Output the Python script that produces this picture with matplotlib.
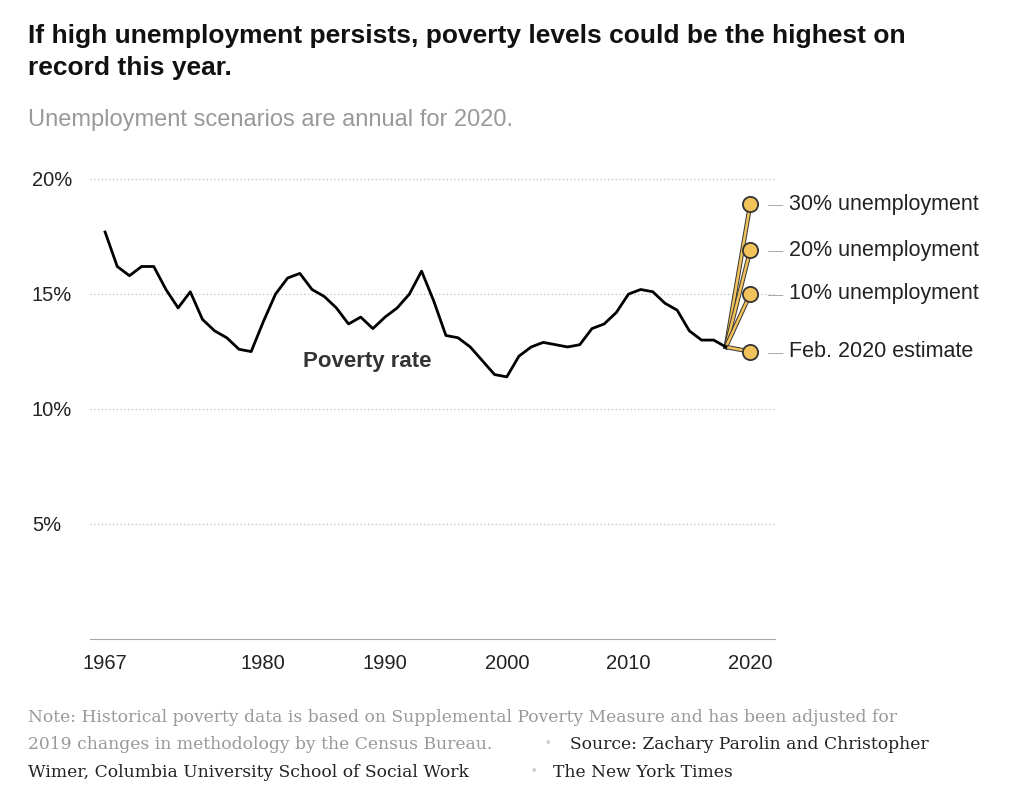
import matplotlib.pyplot as plt

years = list(range(1967, 2019))
poverty = [17.7, 16.2, 15.8, 16.2, 16.2, 15.2, 14.4, 15.1, 13.9, 13.4,
           13.1, 12.6, 12.5, 13.8, 15.0, 15.7, 15.9, 15.2, 14.9, 14.4,
           13.7, 14.0, 13.5, 14.0, 14.4, 15.0, 16.0, 14.7, 13.2, 13.1,
           12.7, 12.1, 11.5, 11.4, 12.3, 12.7, 12.9, 12.8, 12.7, 12.8,
           13.5, 13.7, 14.2, 15.0, 15.2, 15.1, 14.6, 14.3, 13.4, 13.0,
           13.0, 12.7]
scenario_labels = ["30% unemployment", "20% unemployment",
                   "10% unemployment", "Feb. 2020 estimate"]
scenario_values = [18.9, 16.9, 15.0, 12.5]
yticks = [5, 10, 15, 20]
xticks = [1967, 1980, 1990, 2000, 2010, 2020]

plt.rcParams["font.family"] = ["Liberation Sans", "DejaVu Sans"]
fig = plt.figure(figsize=(10.24, 8.03), dpi=100)
ax = fig.add_axes([0.088, 0.203, 0.669, 0.587])
ax.set_xlim(1965.77, 2022.05)
ax.set_ylim(0, 20.5)

for v in yticks:
    ax.axhline(v, color="#bbbbbb", linestyle=(0, (1, 2)), linewidth=0.9, zorder=0)
    ax.text(-0.085, v, f"{v}%", transform=ax.get_yaxis_transform(),
            ha="left", va="center", fontsize=14.5, color="#222222")

ax.plot(years, poverty, color="black", linewidth=2, zorder=3)
gold = "#f2c25b"
for v in scenario_values:
    ax.plot([years[-1], 2020], [poverty[-1], v], color="#333333", linewidth=3.2, zorder=2)
    ax.plot([years[-1], 2020], [poverty[-1], v], color=gold, linewidth=1.8, zorder=2)
ax.scatter([2020] * len(scenario_values), scenario_values, s=120, color=gold,
           edgecolor="#333333", linewidth=1.3, zorder=4)
for lab, v in zip(scenario_labels, scenario_values):
    ax.annotate("— ", (2020, v), xytext=(13, 0), textcoords="offset points",
                ha="left", va="center", fontsize=11, color="#aaaaaa",
                annotation_clip=False)
    ax.annotate(lab, (2020, v), xytext=(28, 1), textcoords="offset points",
                ha="left", va="center", fontsize=15.5, color="#222222",
                annotation_clip=False)

ax.text(1988.5, 12.1, "Poverty rate", fontsize=16, fontweight="bold", color="#333333",
        ha="center", va="center")

for s in ["top", "right", "left"]:
    ax.spines[s].set_visible(False)
ax.spines["bottom"].set_color("#aaaaaa")
ax.set_yticks([])
ax.set_xticks(xticks)
ax.set_xticklabels([str(x) for x in xticks], fontsize=14.5, color="#222222")
ax.tick_params(axis="x", length=0, pad=10)

fig.text(0.027, 0.935, "If high unemployment persists, poverty levels could be the highest on\nrecord this year.",
         fontsize=19, fontweight="bold", ha="left", va="center", linespacing=1.45, color="#111111")
fig.text(0.027, 0.851, "Unemployment scenarios are annual for 2020.",
         fontsize=17, color="#999999", ha="left", va="center")

serif = ["DejaVu Serif"]
fig.text(0.027, 0.107, "Note: Historical poverty data is based on Supplemental Poverty Measure and has been adjusted for",
         fontsize=12.3, color="#999999", family=serif, va="center")
fig.text(0.027, 0.073, "2019 changes in methodology by the Census Bureau.",
         fontsize=12.3, color="#999999", family=serif, va="center")
fig.text(0.533, 0.073, "\u2022", fontsize=9, color="#cccccc", va="center")
fig.text(0.557, 0.073, "Source: Zachary Parolin and Christopher",
         fontsize=12.3, color="#222222", family=serif, va="center")
fig.text(0.027, 0.038, "Wimer, Columbia University School of Social Work",
         fontsize=12.3, color="#222222", family=serif, va="center")
fig.text(0.519, 0.038, "\u2022", fontsize=9, color="#cccccc", va="center")
fig.text(0.54, 0.038, "The New York Times",
         fontsize=12.3, color="#222222", family=serif, va="center")

fig.savefig("out.png", dpi=100)
